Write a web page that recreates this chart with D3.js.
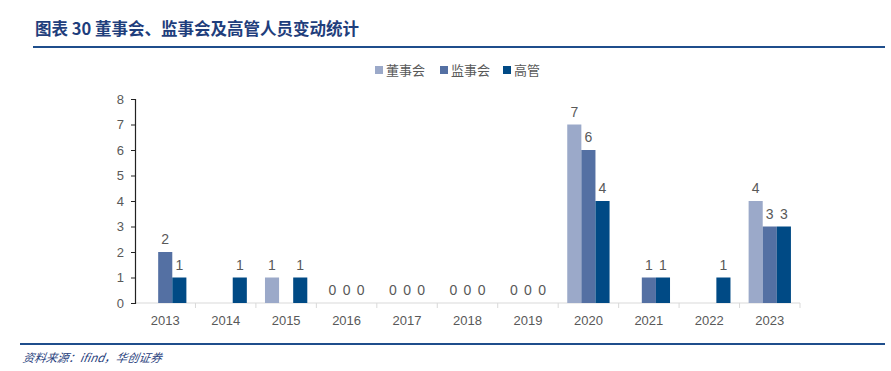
<!DOCTYPE html>
<html>
<head>
<meta charset="utf-8">
<script src="https://cdn.jsdelivr.net/npm/d3@7"></script>
<style>
  body { margin: 0; background: #fff; }
  svg { display: block; }
</style>
</head>
<body>
<script>
const years = ["2013","2014","2015","2016","2017","2018","2019","2020","2021","2022","2023"];
const seriesNames = ["董事会", "监事会", "高管"];
const board = [null, null, 1, 0, 0, 0, 0, 7, null, null, 4];
const supervisors = [2, null, null, 0, 0, 0, 0, 6, 1, null, 3];
const executives = [1, 1, 1, 0, 0, 0, 0, 4, 1, 1, 3];
const yTicks = [0, 1, 2, 3, 4, 5, 6, 7, 8];

const colors = ["#9BA9C9", "#5470A3", "#004A85"];
const seriesValues = [board, supervisors, executives];

const width = 891, height = 371;
const svg = d3.select("body").append("svg")
	.attr("width", width)
	.attr("height", height);

//title
svg.append("text")
	.attr("x", 35)
	.attr("y", 35)
	.attr("font-family", "'Noto Sans CJK SC', sans-serif")
	.attr("font-weight", "bold")
	.attr("font-size", 16.5)
	.attr("fill", "#1F3E7C")
	.text("图表 30  董事会、监事会及高管人员变动统计");

svg.append("line")
	.attr("x1", 33).attr("x2", 885)
	.attr("y1", 47).attr("y2", 47)
	.attr("stroke", "#1F4E8C")
	.attr("stroke-width", 2);

//footer
svg.append("line")
	.attr("x1", 20).attr("x2", 885)
	.attr("y1", 344).attr("y2", 344)
	.attr("stroke", "#1F4E8C")
	.attr("stroke-width", 2);

svg.append("text")
	.attr("x", 22)
	.attr("y", 362)
	.attr("font-family", "'Noto Sans CJK SC', sans-serif")
	.attr("font-style", "italic")
	.attr("font-size", 11.5)
	.attr("fill", "#1F3E7C")
	.attr("transform", "skewX(-10) translate(64,0)")
	.text("资料来源：ifind，华创证券");

//scales
const x0 = d3.scaleBand()
	.domain(years)
	.range([135, 800])
	.paddingInner(0.3)
	.paddingOuter(0.15);

const xBand = d3.scaleBand()
	.domain(years)
	.range([135, 800]);

const x1 = d3.scaleBand()
	.domain(seriesNames)
	.range([0, x0.bandwidth()]);

const y = d3.scaleLinear()
	.domain([0, 8])
	.range([303, 99]);

//x axis
const xAxisG = svg.append("g")
	.attr("transform", "translate(0,303)");
xAxisG.append("line")
	.attr("x1", 135).attr("x2", 800)
	.attr("stroke", "#D9D9D9");
xAxisG.selectAll(".sep")
	.data(years.slice(1).concat(["end"]))
	.join("line")
	.attr("x1", (d, i) => i < years.length - 1 ? xBand(d) : 800)
	.attr("x2", (d, i) => i < years.length - 1 ? xBand(d) : 800)
	.attr("y1", 0).attr("y2", 5)
	.attr("stroke", "#D9D9D9");
xAxisG.selectAll(".lab")
	.data(years)
	.join("text")
	.attr("x", d => xBand(d) + xBand.bandwidth() / 2)
	.attr("y", 22)
	.attr("text-anchor", "middle")
	.attr("font-family", "'Liberation Sans', Arial, sans-serif")
	.attr("font-size", 13)
	.attr("fill", "#595959")
	.text(d => d);

//y axis
const yAxis = d3.axisLeft(y)
	.tickValues(yTicks)
	.tickSize(4)
	.tickPadding(7);
const yAxisG = svg.append("g")
	.attr("transform", "translate(135,0)")
	.call(yAxis);
yAxisG.select(".domain").attr("stroke", "#222").attr("stroke-width", 1.2);
yAxisG.selectAll(".tick line").attr("stroke", "#222");
yAxisG.selectAll(".tick text")
	.attr("font-family", "'Liberation Sans', Arial, sans-serif")
	.attr("font-size", 13)
	.attr("fill", "#595959");

//bars
const groups = svg.append("g")
	.selectAll("g")
	.data(years.map((yr, i) => ({ yr, vals: seriesValues.map((s, k) => ({ k, name: seriesNames[k], v: s[i] })) })))
	.join("g")
	.attr("transform", d => `translate(${x0(d.yr)},0)`);

groups.selectAll("rect")
	.data(d => d.vals.filter(e => e.v !== null && e.v > 0))
	.join("rect")
	.attr("x", d => x1(d.name))
	.attr("y", d => y(d.v))
	.attr("width", x1.bandwidth())
	.attr("height", d => y(0) - y(d.v))
	.attr("fill", d => colors[d.k]);

groups.selectAll("text")
	.data(d => d.vals.filter(e => e.v !== null))
	.join("text")
	.attr("x", d => x1(d.name) + x1.bandwidth() / 2)
	.attr("y", d => y(d.v) - 8)
	.attr("text-anchor", "middle")
	.attr("font-family", "'Liberation Sans', Arial, sans-serif")
	.attr("font-size", 14)
	.attr("fill", "#595959")
	.text(d => d.v);

//legend
const legend = svg.append("g")
	.attr("font-family", "'Noto Sans CJK SC', sans-serif")
	.attr("font-size", 13)
	.attr("fill", "#595959");
const legendX = [375, 440, 503];
seriesNames.forEach((n, k) => {
	legend.append("rect")
		.attr("x", legendX[k])
		.attr("y", 66)
		.attr("width", 8).attr("height", 8)
		.attr("fill", colors[k]);
	legend.append("text")
		.attr("x", legendX[k] + 11)
		.attr("y", 75)
		.text(n);
});
</script>
</body>
</html>
